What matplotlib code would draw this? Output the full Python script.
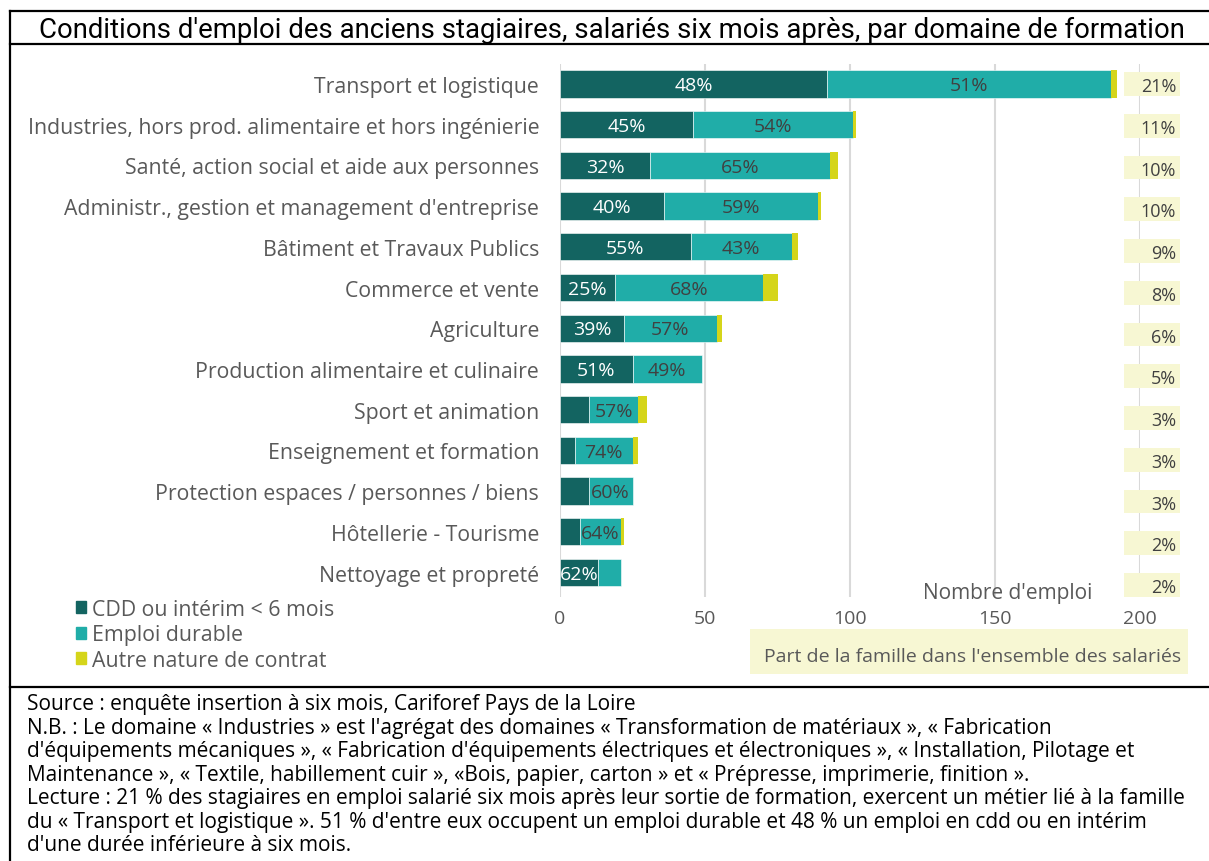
import matplotlib
import numpy as np

matplotlib.use("Agg")
import matplotlib.pyplot as plt  # noqa: E402
from matplotlib.lines import Line2D  # noqa: E402
from matplotlib.patches import Patch, Rectangle  # noqa: E402

W, H = 1209, 862

domaines = [
    "Transport et logistique",
    "Industries, hors prod. alimentaire et hors ingénierie",
    "Santé, action social et aide aux personnes",
    "Administr., gestion et management d'entreprise",
    "Bâtiment et Travaux Publics",
    "Commerce et vente",
    "Agriculture",
    "Production alimentaire et culinaire",
    "Sport et animation",
    "Enseignement et formation",
    "Protection espaces / personnes / biens",
    "Hôtellerie - Tourisme",
    "Nettoyage et propreté",
]
cdd = [92, 46, 31, 36, 45, 19, 22, 25, 10, 5, 10, 7, 13]
durable = [98, 55, 62, 53, 35, 51, 32, 24, 17, 20, 15, 14, 8]
autre = [2, 1, 3, 1, 2, 5, 2, 0, 3, 2, 0, 1, 0]
cdd_pct = ["48%", "45%", "32%", "40%", "55%", "25%", "39%", "51%", "", "", "", "", "62%"]
durable_pct = ["51%", "54%", "65%", "59%", "43%", "68%", "57%", "49%", "57%", "74%", "60%", "64%", ""]
part_famille = ["21%", "11%", "10%", "10%", "9%", "8%", "6%", "5%", "3%", "3%", "3%", "2%", "2%"]
x_ticks = [0, 50, 100, 150, 200]

DARK = "#136461"
TEAL = "#20ADA8"
YELLOW = "#D5D51A"
PALE = "#F7F7D3"
GREY = "#595959"

plt.rcParams["font.family"] = ["Open Sans", "DejaVu Sans"]


def fx(px):
    return px / W


def fy(py):
    return 1 - py / H


fig = plt.figure(figsize=(W / 100, H / 100), dpi=100)

# main bar chart
ax = fig.add_axes([fx(560), fy(598), fx(1140) - fx(560), fy(64.6) - fy(598)])
y = np.arange(len(domaines))
cdd_a = np.array(cdd)
dur_a = np.array(durable)
aut_a = np.array(autre)
ax.barh(y, cdd_a, height=0.67, color=DARK, edgecolor="white", linewidth=0.4, zorder=3)
ax.barh(y, dur_a, left=cdd_a, height=0.67, color=TEAL, edgecolor="white", linewidth=0.4, zorder=3)
ax.barh(y, aut_a, left=cdd_a + dur_a, height=0.67, color=YELLOW, linewidth=0, zorder=3)
for i in range(len(domaines)):
    if cdd_pct[i]:
        ax.text(cdd_a[i] / 2, i + 0.03, cdd_pct[i], ha="center", va="center",
                color="white", fontsize=14, zorder=4)
    if durable_pct[i]:
        ax.text(cdd_a[i] + dur_a[i] / 2, i + 0.03, durable_pct[i], ha="center",
                va="center", color="#404040", fontsize=14, zorder=4)
ax.set_xlim(0, 200)
ax.set_ylim(12.6, -0.5)
ax.set_xticks(x_ticks)
ax.set_xticklabels([str(t) for t in x_ticks])
ax.set_yticks(y)
ax.set_yticklabels(domaines)
ax.tick_params(axis="x", length=0, pad=9, labelsize=14, labelcolor=GREY)
ax.tick_params(axis="y", length=0, pad=15, labelsize=15.3, labelcolor=GREY)
ax.grid(axis="x", color="#D9D9D9", linewidth=1.5, zorder=0)
for side in ax.spines.values():
    side.set_visible(False)

# share of each family
ax2 = fig.add_axes([fx(1124), fy(607), fx(1180) - fx(1124), fy(64) - fy(607)])
ax2.barh(y, [1] * len(domaines), height=0.57, color=PALE, zorder=3)
for i, share in enumerate(part_famille):
    ax2.text(0.93, i + 0.05, share, ha="right", va="center", color="#404040", fontsize=13, zorder=4)
ax2.set_xlim(0, 1)
ax2.set_ylim(12.5, -0.5)
ax2.axis("off")
ax2.patch.set_alpha(0)

fig.text(fx(1008), fy(594), "Nombre d'emploi", ha="center", va="center", color=GREY, fontsize=15)
fig.patches.append(Rectangle((fx(750), fy(675)), fx(1188) - fx(750), fy(630) - fy(675),
                             transform=fig.transFigure, facecolor=PALE, edgecolor="none"))
fig.text(fx(973), fy(657), "Part de la famille dans l'ensemble des salariés", ha="center",
         va="center", color=GREY, fontsize=14)

handles = [Patch(color=DARK), Patch(color=TEAL), Patch(color=YELLOW)]
leg = fig.legend(handles, ["CDD ou intérim < 6 mois", "Emploi durable", "Autre nature de contrat"],
                 loc="upper left", bbox_to_anchor=(fx(67), fy(591)), frameon=False,
                 fontsize=15.3, handlelength=0.5, handleheight=0.5, handletextpad=0.3,
                 labelspacing=0.22, borderaxespad=0)
for t in leg.get_texts():
    t.set_color(GREY)

# frame and title
for xs, ys in [((10, 1209), (12, 12)), ((10, 1209), (45, 45)), ((10, 1209), (688, 688)),
               ((10, 10), (12, 862))]:
    fig.lines.append(Line2D([fx(xs[0]), fx(xs[1])], [fy(ys[0]), fy(ys[1])],
                            transform=fig.transFigure, color="black", linewidth=1.6))
fig.text(fx(612), fy(30), "Conditions d'emploi des anciens stagiaires, salariés six mois après, par domaine de formation",
         ha="center", va="center", color="black", fontsize=19.8, family=["Roboto", "DejaVu Sans"])

notes = [
    "Source : enquête insertion à six mois, Cariforef Pays de la Loire",
    "N.B. : Le domaine « Industries » est l'agrégat des domaines « Transformation de matériaux », « Fabrication",
    "d'équipements mécaniques », « Fabrication d'équipements électriques et électroniques », « Installation, Pilotage et",
    "Maintenance », « Textile, habillement cuir », «Bois, papier, carton » et « Prépresse, imprimerie, finition ».",
    "Lecture : 21 % des stagiaires en emploi salarié six mois après leur sortie de formation, exercent un métier lié à la famille",
    "du « Transport et logistique ». 51 % d'entre eux occupent un emploi durable et 48 % un emploi en cdd ou en intérim",
    "d'une durée inférieure à six mois.",
]
for k, line in enumerate(notes):
    fig.text(fx(27), fy(705 + k * 23.5), line, ha="left", va="center", color="black", fontsize=15)

fig.savefig("out.png", dpi=100)
